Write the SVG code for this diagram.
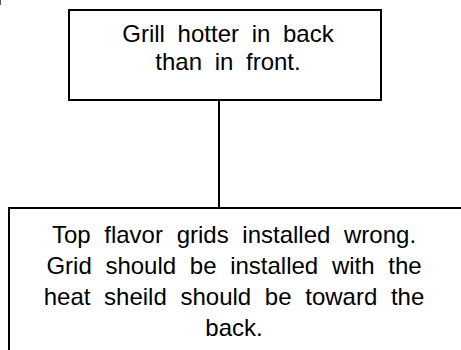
<svg xmlns="http://www.w3.org/2000/svg" width="461" height="350" viewBox="0 0 461 350">
<style>
.box{fill:#fff;stroke:#000;stroke-width:2}
.conn{stroke:#000;stroke-width:2;fill:none}
.t{font-family:"Liberation Sans",Arial,sans-serif;font-size:24px;fill:#000;text-anchor:middle;word-spacing:6px}
.b{word-spacing:7px}
</style>
<rect width="461" height="350" fill="#fff"/>
<line x1="0.5" y1="0" x2="0.5" y2="5" stroke="#555" stroke-width="1"/>
<g id="connectors">
<line class="conn" x1="219" y1="100" x2="219" y2="208"/>
</g>
<g id="node-top">
<rect class="box" x="69" y="10" width="312" height="90"/>
<text class="t" x="228" y="42">Grill hotter in back</text>
<text class="t" x="228" y="70">than in front.</text>
</g>
<g id="node-bottom">
<rect class="box" x="9" y="208" width="470" height="160"/>
<text class="t b" x="234" y="243">Top flavor grids installed wrong.</text>
<text class="t b" x="234" y="274">Grid should be installed with the</text>
<text class="t b" x="234" y="305">heat sheild should be toward the</text>
<text class="t b" x="234" y="336">back.</text>
</g>
</svg>
